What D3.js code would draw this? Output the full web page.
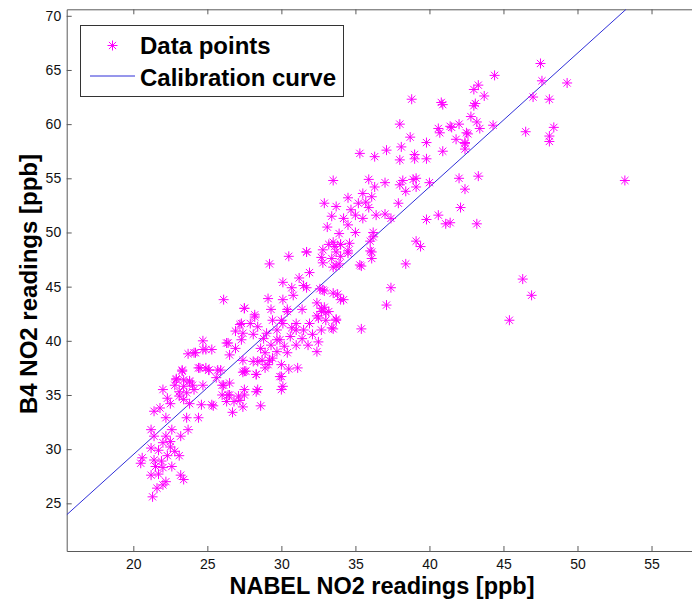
<!DOCTYPE html>
<html>
<head>
<meta charset="utf-8">
<script src="https://cdn.jsdelivr.net/npm/d3@7"></script>
<style>
  body { margin: 0; background: #fff; }
  text { font-family: "Liberation Sans", Arial, sans-serif; }
</style>
</head>
<body>
<div id="chart"></div>
<script>
// NABEL reference readings (x) and B4 sensor readings (y)
var nabel = [
  47.5,44.4,47.6,49.3,43.3,43.0,43.7,47.0,48.1,43.0,43.1,42.8,43.2,43.4,44.3,41.5,42.0,46.5,48.4,48.1,
  48.1,42.6,41.8,42.4,42.4,53.2,42.0,43.3,42.4,42.1,41.4,43.2,46.3,46.9,45.4,
  38.8,40.8,40.9,38.0,40.6,40.7,41.4,42.5,38.7,39.8,42.4,35.3,36.3,37.1,38.1,38.0,39.0,39.0,39.8,40.9,
  33.5,35.9,36.3,37.0,38.0,38.2,38.9,39.1,39.1,38.4,40.0,33.7,34.5,35.5,36.1,35.2,35.7,35.9,34.7,33.4,
  34.2,35.0,35.5,36.4,37.0,37.4,37.9,34.5,35.0,33.9,39.8,40.6,41.1,33.5,34.0,34.6,36.2,36.0,36.1,35.3,
  38.4,39.1,39.4,33.7,33.6,34.0,34.5,36.1,36.2,32.9,
  33.1,30.5,31.7,29.2,32.8,33.2,34.0,34.5,33.7,32.7,33.4,32.8,33.9,33.5,35.4,36.0,37.4,37.1,35.4,31.9,
  31.2,30.1,30.7,31.7,32.6,32.9,33.8,34.2,30.1,30.8,29.1,32.4,32.9,33.2,32.7,27.5,29.3,30.4,31.4,28.2,
  27.3,33.7,33.0,32.5,31.9,31.0,30.0,29.4,28.4,29.0,29.7,30.7,31.5,32.7,33.4,32.1,31.4,30.6,29.9,28.8,
  28.1,32.5,31.0,30.2,29.3,28.6,29.7,28.9,30.4,31.8,32.4,29.4,28.7,28.1,29.1,28.9,30.0,31.1,30.5,27.4,
  28.3,30.0,30.1,27.4,
  24.7,23.7,24.1,24.9,24.4,24.9,25.1,23.3,22.9,23.4,23.8,22.8,23.4,24.0,22.0,23.1,23.6,24.1,23.1,22.3,
  22.5,23.4,23.8,24.6,25.3,26.0,26.1,25.6,26.4,26.8,26.3,27.1,27.5,27.6,28.3,27.2,27.4,28.6,26.7,25.4,
  21.4,21.8,22.2,22.6,23.6,24.4,23.7,23.2,22.2,21.2,21.4,21.2,22.5,22.8,22.3,23.1,20.6,21.4,21.9,20.5,
  21.5,22.0,22.6,21.2,21.7,23.2,23.4,22.2,22.0,21.6,21.3,21.7,22.5,22.0,26.3,26.9,29.9,30.0,25.9,26.5,
  26.1,27.5,28.2,27.2,27.9,26.9,26.4,27.3,24.7,24.2,25.3,26.5,27.4,28.4,23.3,24.5,25.1,25.7,27.5,28.3,
  22.9,23.8,24.7,26.0,26.5,27.5,28.4,29.2,29.7,30.1,30.4,
  32.8,33.5,34.0,31.5,32.7,33.0,33.7,32.4,33.5,31.0,31.7
];
var b4 = [
  65.6,64.5,64.0,63.8,63.6,63.2,62.6,62.5,62.3,61.7,61.9,60.7,60.2,59.6,59.9,59.7,60.0,59.3,59.7,58.9,
  58.4,59.1,58.6,58.2,57.7,54.8,55.0,55.2,54.0,52.3,50.9,50.8,45.7,44.2,41.9,
  62.3,62.0,61.8,60.0,59.6,59.2,59.8,59.2,58.8,58.3,58.3,57.3,57.0,57.6,57.9,56.7,57.2,56.8,56.8,57.5,
  54.8,54.9,54.2,54.6,54.4,54.8,54.9,55.0,54.2,53.8,54.6,52.4,53.2,53.6,53.3,52.7,52.8,52.3,52.1,51.5,
  51.3,51.6,51.3,51.6,51.7,51.3,52.7,50.7,50.0,49.9,51.2,51.6,50.8,49.1,48.9,49.0,49.6,49.2,48.2,47.0,
  47.1,49.2,48.7,46.9,48.7,47.8,48.1,47.6,50.0,52.7,
  50.5,47.8,48.2,47.1,48.4,48.9,48.9,48.3,48.2,47.7,47.6,47.2,47.1,46.8,46.9,48.3,44.9,43.3,41.1,46.3,
  45.8,45.4,44.9,44.9,44.8,44.6,44.3,43.8,43.8,44.2,43.9,43.5,43.1,42.7,42.7,43.0,42.9,42.7,42.9,42.2,
  41.6,42.0,41.9,42.1,41.6,41.6,41.9,41.9,41.3,40.7,41.0,41.2,41.0,41.0,41.2,40.6,40.2,40.4,40.1,40.2,
  40.6,39.9,39.6,39.5,39.6,39.3,39.0,38.9,38.9,39.6,39.0,38.4,38.2,38.1,37.8,37.5,37.8,37.5,37.4,37.1,
  36.9,36.7,35.8,40.7,
  40.0,38.8,38.9,39.2,37.5,37.5,37.3,37.2,36.5,36.4,36.3,35.9,35.8,35.9,35.5,35.3,35.2,35.5,34.9,34.7,
  34.2,34.6,34.2,34.1,34.1,35.0,35.9,36.6,35.0,34.4,34.4,34.9,35.0,37.2,35.3,34.5,33.9,34.0,33.4,34.0,
  33.5,33.8,32.9,31.8,32.9,32.9,31.8,31.2,31.2,31.8,31.2,30.1,30.2,29.8,29.4,29.4,29.2,29.0,28.9,28.7,
  28.4,28.3,28.4,27.6,27.7,27.6,27.2,27.0,26.7,26.4,25.6,29.9,30.7,30.6,39.8,39.3,36.7,35.5,37.3,36.1,
  43.8,43.0,42.4,41.5,41.6,40.9,39.8,40.1,39.2,38.9,39.2,38.7,38.2,38.1,37.3,37.5,37.3,37.3,37.2,36.9,
  36.4,36.2,35.9,35.9,35.0,35.5,35.5,38.2,40.1,41.6,42.9,
  44.7,44.4,43.8,45.1,43.0,42.6,41.9,42.3,41.1,41.0,48.2
];

var xTicks = [20, 25, 30, 35, 40, 45, 50, 55];
var yTicks = [25, 30, 35, 40, 45, 50, 55, 60, 65, 70];
var xDomain = [15.5, 57.7];
var yDomain = [20.6, 70.6];

// calibration curve: B4 = slope * NABEL + intercept
var fitSlope = 1.235;
var fitIntercept = 4.8;

var legendLabels = ['Data points', 'Calibration curve'];

var svgWidth = 692;
var svgHeight = 606;

var plot = { left: 66.7, right: 691.5, top: 9.3, bottom: 551 };

var svg = d3.select('#chart')
  .append('svg')
  .attr('width', svgWidth)
  .attr('height', svgHeight);

var xScale = d3.scaleLinear().domain(xDomain).range([plot.left, plot.right]);
var yScale = d3.scaleLinear().domain(yDomain).range([plot.bottom, plot.top]);

svg.append('defs').append('clipPath')
  .attr('id', 'plotClip')
  .append('rect')
  .attr('x', plot.left)
  .attr('y', plot.top)
  .attr('width', plot.right - plot.left)
  .attr('height', plot.bottom - plot.top);

// axes, ticks pointing inward like the matlab box
var xAxis = d3.axisBottom(xScale).tickValues(xTicks).tickSizeInner(-5).tickSizeOuter(0).tickPadding(8);
var yAxis = d3.axisLeft(yScale).tickValues(yTicks).tickSizeInner(-5).tickSizeOuter(0).tickPadding(5.5);
var xTop = d3.axisTop(xScale).tickValues(xTicks).tickSizeInner(-5).tickSizeOuter(0).tickFormat('');

svg.append('g')
  .attr('class', 'axis')
  .attr('transform', `translate(0, ${plot.bottom})`)
  .call(xAxis);

svg.append('g')
  .attr('class', 'axis')
  .attr('transform', `translate(${plot.left}, 0)`)
  .call(yAxis);

svg.append('g')
  .attr('class', 'axis')
  .attr('transform', `translate(0, ${plot.top})`)
  .call(xTop);

svg.selectAll('.axis path, .axis line')
  .attr('stroke', '#5a5a5a')
  .attr('stroke-width', 1);

svg.selectAll('.axis text')
  .attr('font-size', 14)
  .attr('fill', '#111');

// calibration line
var lineData = [xDomain[0], (yDomain[1] - fitIntercept) / fitSlope].map(function(x) {
  return [x, fitSlope * x + fitIntercept];
});

var plotArea = svg.append('g').attr('clip-path', 'url(#plotClip)');

plotArea.append('path')
  .datum(lineData)
  .attr('fill', 'none')
  .attr('stroke', '#2f2fd8')
  .attr('stroke-width', 1)
  .attr('d', d3.line().x(d => xScale(d[0])).y(d => yScale(d[1])));

// asterisk marker (plus + cross)
var r = 5;
var rd = r * 0.72;
var starPath = `M${-r},0H${r}M0,${-r}V${r}M${-rd},${-rd}L${rd},${rd}M${-rd},${rd}L${rd},${-rd}`;

var points = nabel.map(function(x, i) { return { x: x, y: b4[i] }; });

plotArea.selectAll('.pt')
  .data(points)
  .enter()
  .append('path')
  .attr('class', 'pt')
  .attr('d', starPath)
  .attr('transform', d => `translate(${xScale(d.x)}, ${yScale(d.y)})`)
  .attr('fill', 'none')
  .attr('stroke', '#ff00ff')
  .attr('stroke-width', 1);

// legend
var legend = svg.append('g');

legend.append('rect')
  .attr('x', 80.5)
  .attr('y', 25.5)
  .attr('width', 263)
  .attr('height', 71)
  .attr('fill', '#fff')
  .attr('stroke', '#333')
  .attr('stroke-width', 1);

legend.append('path')
  .attr('d', starPath)
  .attr('transform', 'translate(112.5, 45.5)')
  .attr('fill', 'none')
  .attr('stroke', '#ff00ff')
  .attr('stroke-width', 1);

legend.append('line')
  .attr('x1', 90).attr('x2', 135)
  .attr('y1', 76).attr('y2', 76)
  .attr('stroke', '#2f2fd8')
  .attr('stroke-width', 1);

legend.selectAll('.legText')
  .data(legendLabels)
  .enter()
  .append('text')
  .attr('class', 'legText')
  .attr('x', 140)
  .attr('y', (d, i) => 53.5 + i * 32.5)
  .attr('font-size', 24)
  .attr('font-weight', 'bold')
  .text(d => d);

// axis labels
svg.append('text')
  .attr('x', 382)
  .attr('y', 594)
  .attr('text-anchor', 'middle')
  .attr('font-size', 23.5)
  .attr('font-weight', 'bold')
  .text('NABEL NO2 readings [ppb]');

svg.append('text')
  .attr('transform', 'translate(37, 284) rotate(-90)')
  .attr('text-anchor', 'middle')
  .attr('font-size', 24)
  .attr('font-weight', 'bold')
  .text('B4 NO2 readings [ppb]');
</script>
</body>
</html>
